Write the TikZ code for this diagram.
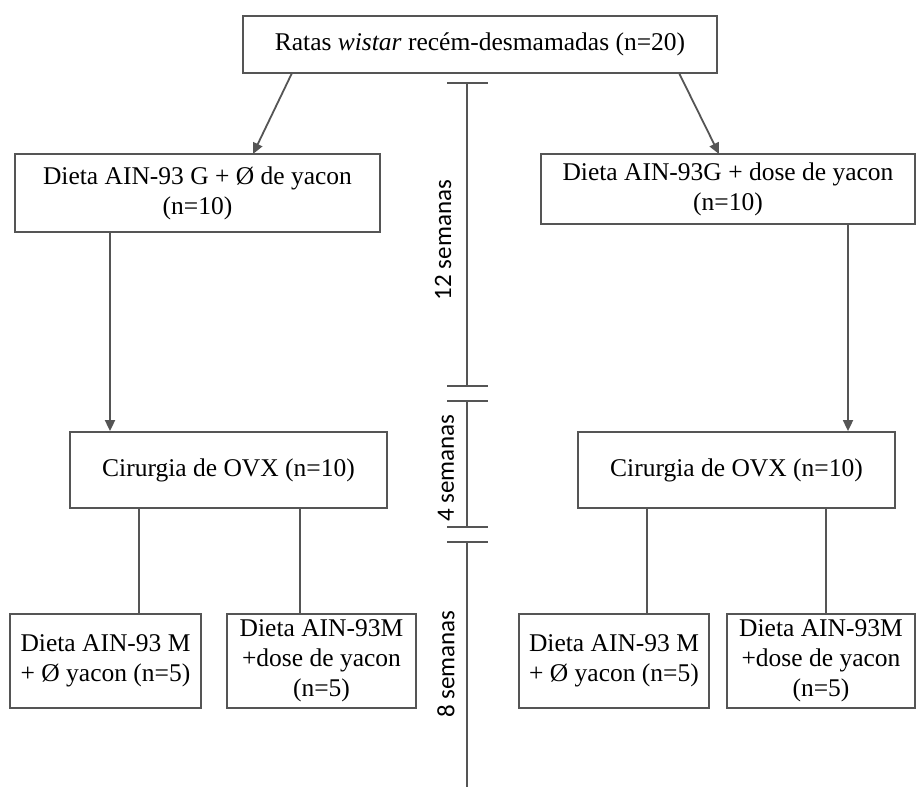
\documentclass[tikz,border=0pt]{standalone}
\usepackage{fontspec}
\setmainfont{Liberation Serif}
\newfontfamily\labelfont{Carlito}
\usetikzlibrary{arrows.meta}
\definecolor{linegray}{RGB}{85,85,85}
\tikzset{
  box/.style={draw=linegray, line width=1.8pt, rectangle, inner sep=0pt, align=center,
    font=\fontsize{25.5}{30}\selectfont, text=black},
  conn/.style={draw=linegray, line width=1.8pt},
  arr/.style={conn, -{Triangle[length=11pt,width=10pt]}},
  tick/.style={draw=linegray, line width=2.2pt},
  weeklabel/.style={font=\labelfont\fontsize{25}{30}\selectfont, rotate=90, inner sep=0pt, text=black}
}
\begin{document}
\begin{tikzpicture}[x=1pt,y=-1pt]
\useasboundingbox (0,0) rectangle (917,791);
\fill[white] (0,0) rectangle (917,791);

% boxes
\node[box, minimum width=474pt, minimum height=57pt] (top) at (480,44.5) {Ratas \textit{wistar} recém-desmamadas (n=20)};
\node[box, minimum width=365pt, minimum height=78pt] (gl) at (197.5,193) {Dieta AIN-93 G + Ø de yacon\\(n=10)};
\node[box, minimum width=374pt, minimum height=70pt] (gr) at (728,189) {Dieta AIN-93G + dose de yacon\\(n=10)};
\node[box, minimum width=317pt, minimum height=76pt] (cl) at (228.5,470) {Cirurgia de OVX (n=10)};
\node[box, minimum width=317pt, minimum height=76pt] (cr) at (736.5,470) {Cirurgia de OVX (n=10)};
\node[box, minimum width=191pt, minimum height=94pt] (b1) at (105.5,661) {Dieta AIN-93 M\\+ Ø yacon (n=5)};
\node[box, minimum width=189pt, minimum height=94pt] (b2) at (321.5,661) {Dieta AIN-93M\\+dose de yacon\\(n=5)};
\node[box, minimum width=190pt, minimum height=94pt] (b3) at (614,661) {Dieta AIN-93 M\\+ Ø yacon (n=5)};
\node[box, minimum width=188pt, minimum height=94pt] (b4) at (821,661) {Dieta AIN-93M\\+dose de yacon\\(n=5)};

% arrows
\coordinate (a1s) at (292,73);
\coordinate (a1e) at (253,154);
\coordinate (a2s) at (679,73);
\coordinate (a2e) at (719,154);
\draw[arr] (a1s) -- (a1e);
\draw[arr] (a2s) -- (a2e);
\draw[arr] (gl.south -| 110,0) -- (cl.north -| 110,0);
\draw[arr] (gr.south -| 848,0) -- (cr.north -| 848,0);

% split lines
\draw[conn] (cl.south -| 139,0) -- (b1.north -| 139,0);
\draw[conn] (cl.south -| 300,0) -- (b2.north -| 300,0);
\draw[conn] (cr.south -| 647,0) -- (b3.north -| 647,0);
\draw[conn] (cr.south -| 826,0) -- (b4.north -| 826,0);

% timeline
\coordinate (t0) at (467,83);
\coordinate (t1) at (467,386);
\coordinate (t2) at (467,401);
\coordinate (t3) at (467,527);
\coordinate (t4) at (467,542);
\coordinate (t5) at (467,787);
\draw[conn] (t0) -- (t1);
\draw[conn] (t2) -- (t3);
\draw[conn] (t4) -- (t5);
\foreach \t in {t0,t1,t2,t3,t4}{
  \draw[tick] ([xshift=-20pt]\t) -- ([xshift=21pt]\t);
}
\node[weeklabel] (w12) at (443,240) {12 semanas};
\node[weeklabel] (w4) at (446,468) {4 semanas};
\node[weeklabel] (w8) at (446,664) {8 semanas};
\end{tikzpicture}
\end{document}
